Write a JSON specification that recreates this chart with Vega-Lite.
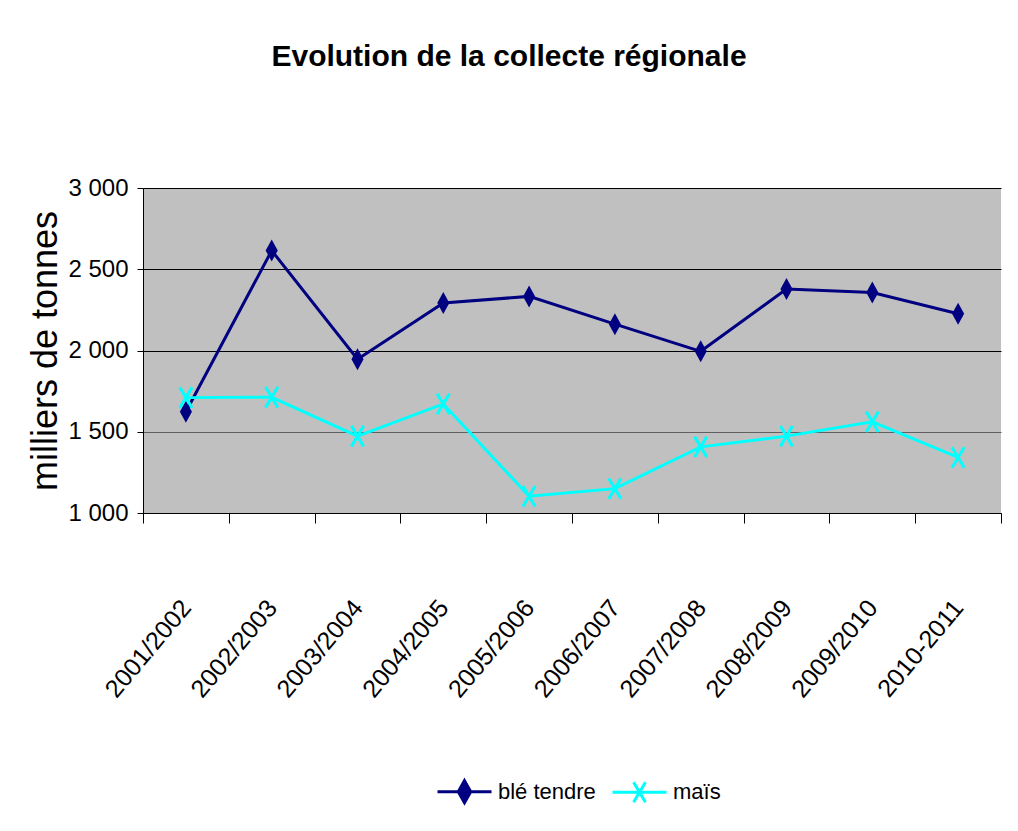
{
  "$schema": "https://vega.github.io/schema/vega-lite/v6.json",
  "autosize": "none",
  "width": 858,
  "height": 325,
  "padding": {"left": 143, "top": 188, "right": 17, "bottom": 318},
  "background": "white",
  "config": {
    "view": {"fill": "#C0C0C0", "stroke": null},
    "font": "Liberation Sans"
  },
  "title": {
    "text": "Evolution de la collecte régionale",
    "font": "Liberation Sans",
    "fontSize": 30,
    "fontWeight": "bold",
    "color": "black",
    "anchor": "middle",
    "frame": "group",
    "baseline": "alphabetic",
    "offset": 80,
    "dx": -63
  },
  "data": {
    "values": [
      {"campagne": "2001/2002", "culture": "blé tendre", "valeur": 1623},
      {"campagne": "2002/2003", "culture": "blé tendre", "valeur": 2615},
      {"campagne": "2003/2004", "culture": "blé tendre", "valeur": 1946},
      {"campagne": "2004/2005", "culture": "blé tendre", "valeur": 2292},
      {"campagne": "2005/2006", "culture": "blé tendre", "valeur": 2333},
      {"campagne": "2006/2007", "culture": "blé tendre", "valeur": 2162},
      {"campagne": "2007/2008", "culture": "blé tendre", "valeur": 1995},
      {"campagne": "2008/2009", "culture": "blé tendre", "valeur": 2378},
      {"campagne": "2009/2010", "culture": "blé tendre", "valeur": 2357},
      {"campagne": "2010-2011", "culture": "blé tendre", "valeur": 2226},
      {"campagne": "2001/2002", "culture": "maïs", "valeur": 1710},
      {"campagne": "2002/2003", "culture": "maïs", "valeur": 1712},
      {"campagne": "2003/2004", "culture": "maïs", "valeur": 1473},
      {"campagne": "2004/2005", "culture": "maïs", "valeur": 1671},
      {"campagne": "2005/2006", "culture": "maïs", "valeur": 1103},
      {"campagne": "2006/2007", "culture": "maïs", "valeur": 1150},
      {"campagne": "2007/2008", "culture": "maïs", "valeur": 1407},
      {"campagne": "2008/2009", "culture": "maïs", "valeur": 1473},
      {"campagne": "2009/2010", "culture": "maïs", "valeur": 1561},
      {"campagne": "2010-2011", "culture": "maïs", "valeur": 1342}
    ]
  },
  "encoding": {
    "x": {
      "field": "campagne",
      "type": "ordinal",
      "sort": null,
      "bandPosition": 0.5,
      "scale": {"type": "band", "paddingInner": 0, "paddingOuter": 0},
      "axis": {
        "title": null,
        "tickBand": "extent",
        "tickSize": 10,
        "tickColor": "black",
        "domainColor": "black",
        "grid": false,
        "labelAngle": -50,
        "labelAlign": "right",
        "labelBaseline": "middle",
        "labelPadding": 80,
        "labelFont": "Liberation Sans",
        "labelFontSize": 25,
        "labelColor": "black",
        "labelLimit": 200
      }
    },
    "y": {
      "field": "valeur",
      "type": "quantitative",
      "scale": {"domain": [1000, 3000], "nice": false, "zero": false},
      "axis": {
        "title": "milliers de tonnes",
        "titleFont": "Liberation Sans",
        "titleFontSize": 36,
        "titleFontWeight": "normal",
        "titleColor": "black",
        "titlePadding": 3,
        "values": [1000, 1500, 2000, 2500, 3000],
        "format": ",d",
        "labelExpr": "replace(datum.label, ',', ' ')",
        "labelFont": "Liberation Sans",
        "labelFontSize": 24,
        "labelColor": "black",
        "labelPadding": 9,
        "tickSize": 6,
        "tickColor": "black",
        "domainColor": "black",
        "grid": true,
        "gridColor": {"condition": {"test": "datum.value === 1500", "value": "#606060"}, "value": "black"},
        "gridOpacity": 1
      }
    }
  },
  "layer": [
    {
      "mark": {"type": "line", "strokeWidth": 3},
      "encoding": {
        "color": {
          "field": "culture",
          "type": "nominal",
          "scale": {"domain": ["blé tendre", "maïs"], "range": ["#000080", "#00FFFF"]},
          "legend": {
            "title": null,
            "orient": "none",
            "legendX": 293,
            "legendY": 575,
            "direction": "horizontal",
            "labelFont": "Liberation Sans",
            "labelFontSize": 22,
            "labelColor": "black",
            "labelOffset": 5,
            "columnPadding": 10,
            "symbolSize": 2916,
            "symbolStrokeWidth": 3,
            "encode": {
              "symbols": {
                "update": {
                  "shape": {"signal": "datum.value === 'blé tendre' ? 'M-1,0H1M0,-0.41L0.23,0L0,0.41L-0.23,0Z' : 'M-1,0H1M-0.22,-0.37L0.22,0.37M-0.22,0.37L0.22,-0.37'"},
                  "fill": {"signal": "datum.value === 'blé tendre' ? '#000080' : 'transparent'"},
                  "stroke": {"signal": "datum.value === 'blé tendre' ? '#000080' : '#00FFFF'"},
                  "strokeWidth": {"value": 3},
                  "size": {"value": 2916}
                }
              }
            }
          }
        }
      }
    },
    {
      "transform": [{"filter": "datum.culture === 'blé tendre'"}],
      "mark": {
        "type": "point",
        "shape": "M0,-1L0.55,0L0,1L-0.55,0Z",
        "size": 484,
        "filled": true,
        "color": "#000080",
        "opacity": 1
      }
    },
    {
      "transform": [{"filter": "datum.culture === 'maïs'"}],
      "mark": {
        "type": "point",
        "shape": "M-0.6,-1L0.6,1M-0.6,1L0.6,-1",
        "size": 420,
        "filled": false,
        "stroke": "#00FFFF",
        "strokeWidth": 3,
        "opacity": 1
      }
    }
  ]
}
